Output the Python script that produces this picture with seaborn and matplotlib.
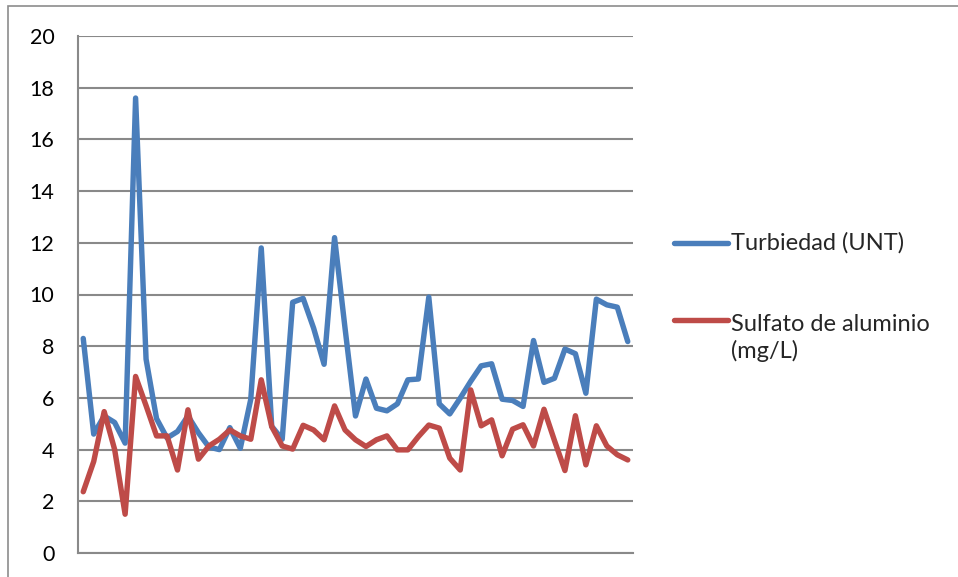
import matplotlib
matplotlib.use("Agg")
import matplotlib.pyplot as plt
from matplotlib.lines import Line2D
from matplotlib.patches import Rectangle
import numpy as np
import pandas as pd
import seaborn as sns

# ---- data ----
turbiedad = [8.3, 4.6, 5.3, 5.05, 4.25, 17.6, 7.5, 5.2, 4.45, 4.7,
             5.3, 4.65, 4.1, 4.0, 4.85, 4.05, 5.95, 11.8, 4.9, 4.4,
             9.7, 9.85, 8.7, 7.3, 12.2, 8.7, 5.3, 6.73, 5.6, 5.5,
             5.77, 6.7, 6.73, 9.9, 5.77, 5.38, 5.99, 6.64, 7.24, 7.32,
             5.95, 5.9, 5.67, 8.22, 6.6, 6.76, 7.89, 7.71, 6.18, 9.82,
             9.6, 9.51, 8.18]
sulfato = [2.37, 3.54, 5.47, 4.0, 1.5, 6.83, 5.7, 4.53, 4.53, 3.21,
           5.54, 3.63, 4.14, 4.4, 4.76, 4.53, 4.4, 6.7, 4.89, 4.14,
           4.02, 4.94, 4.76, 4.38, 5.69, 4.76, 4.38, 4.12, 4.38, 4.53,
           3.99, 3.99, 4.5, 4.95, 4.83, 3.67, 3.21, 6.31, 4.92, 5.15,
           3.76, 4.79, 4.96, 4.14, 5.56, 4.35, 3.19, 5.31, 3.41, 4.92,
           4.14, 3.8, 3.6]
series_names = ["Turbiedad (UNT)", "Sulfato de aluminio\n(mg/L)"]
series_colors = ["#4A7EBB", "#BE4B48"]
y_ticks = [0, 2, 4, 6, 8, 10, 12, 14, 16, 18, 20]

df = pd.DataFrame({"idx": np.arange(len(turbiedad)),
                   "turb": turbiedad, "sulf": sulfato})

sns.set_style("white")
plt.rcParams["font.family"] = ["Lato", "DejaVu Sans"]

W, H = 958, 577
fig = plt.figure(figsize=(W / 100, H / 100), dpi=100)
ax = fig.add_axes([78 / W, 1 - 553 / H, (633 - 78) / W, (553 - 36) / H])

grid_c = "#898989"
lw_series = 3.9
sns.lineplot(data=df, x="idx", y="turb", ax=ax, color=series_colors[0],
             lw=lw_series, legend=False, solid_joinstyle="round",
             solid_capstyle="round")
sns.lineplot(data=df, x="idx", y="sulf", ax=ax, color=series_colors[1],
             lw=lw_series, legend=False, solid_joinstyle="round",
             solid_capstyle="round")

ax.set_xlim(-0.5, len(turbiedad) - 0.5)
ax.set_ylim(0, 20)
ax.set_yticks(y_ticks)
ax.set_yticklabels([str(t) for t in y_ticks])
ax.set_xticks([])
ax.set_xlabel("")
ax.set_ylabel("")
ax.yaxis.grid(True, color=grid_c, lw=1.5)
ax.set_axisbelow(True)
for s in ["top", "right"]:
    ax.spines[s].set_visible(False)
for s in ["left", "bottom"]:
    ax.spines[s].set_color(grid_c)
    ax.spines[s].set_linewidth(1.5)
ax.tick_params(axis="y", length=6, width=1.5, color=grid_c, pad=11,
               labelsize=15.5, labelcolor="#000000")

# legend drawn at the right side of the chart area
for name, col, yl, ytxt in [(series_names[0], series_colors[0], 243, 243),
                            (series_names[1], series_colors[1], 320, 338)]:
    fig.add_artist(Line2D([674 / W, 728 / W], [1 - yl / H, 1 - yl / H],
                          color=col, lw=lw_series, solid_capstyle="round"))
    fig.text(731 / W, 1 - ytxt / H, name, fontsize=17, va="center",
             ha="left", linespacing=1.25)

# outer chart border (cropped)
fig.add_artist(Rectangle((8 / W, -0.1), 1.2, 1.1 - 6.5 / H,
                         transform=fig.transFigure, fill=False,
                         edgecolor="#8c8c8c", lw=1.2))

fig.savefig("out.png", dpi=100)
